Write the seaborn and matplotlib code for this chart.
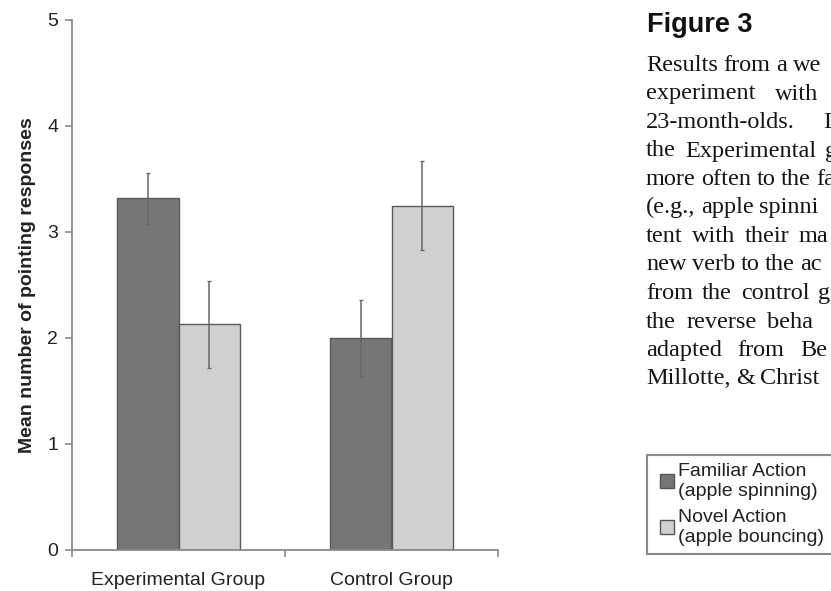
import matplotlib
matplotlib.use("Agg")
import matplotlib.pyplot as plt
import seaborn as sns
import pandas as pd
from matplotlib.lines import Line2D

# ---------------- data ----------------
groups = ["Experimental Group", "Control Group"]
actions = ["Familiar Action\n(apple spinning)", "Novel Action\n(apple bouncing)"]
familiar_mean = [3.32, 2.00]
familiar_err = [0.24, 0.355]
novel_mean = [2.13, 3.25]
novel_err = [0.41, 0.42]
y_ticks = [0, 1, 2, 3, 4, 5]
y_label = "Mean number of pointing responses"
heading = "Figure 3"
caption_lines = [
    "Results from a we",
    "experiment with",
    "23-month-olds. I",
    "the Experimental g",
    "more often to the fa",
    "(e.g., apple spinni",
    "tent with their ma",
    "new verb to the ac",
    "from the control g",
    "the reverse beha",
    "adapted from Be",
    "Millotte, & Christ",
]

# ---------------- layout (pixels) ----------------
W, H = 831, 591
caption_last_word_x = [793, 775, 823, 825, 815, 757, 799, 800, 818, 767, 800, 760]

df = pd.DataFrame({
    "group": groups * 2,
    "action": [actions[0]] * len(groups) + [actions[1]] * len(groups),
    "mean": familiar_mean + novel_mean,
})
errs = [familiar_err, novel_err]

sns.set_style("white")
plt.rcParams["font.family"] = ["Liberation Sans", "DejaVu Sans"]

fig = plt.figure(figsize=(W / 100, H / 100), dpi=100)
fig.patch.set_facecolor("white")
ax = fig.add_axes([72 / W, 1 - 550 / H, (498 - 72) / W, (550 - 20) / H])

palette = ["#767676", "#d0d0d0"]
sns.barplot(data=df, x="group", y="mean", hue="action", order=groups,
            hue_order=actions, palette=palette, width=0.578, saturation=1,
            edgecolor="#5a5a5a", linewidth=1.0, errorbar=None, ax=ax)

for cont, err in zip(ax.containers, errs):
    for bar, e in zip(cont, err):
        xc = bar.get_x() + bar.get_width() / 2
        ax.errorbar(xc, bar.get_height(), yerr=e, fmt="none", ecolor="#666666",
                    elinewidth=1.1, capsize=1.6, capthick=1.0, zorder=5)

ax.set_xlim(-0.5, 1.5)
ax.set_ylim(0, 5)
ax.set_yticks(y_ticks)
ax.set_xticks([-0.5, 0.5, 1.5], minor=True)
for s in ["top", "right"]:
    ax.spines[s].set_visible(False)
for s in ["left", "bottom"]:
    ax.spines[s].set_color("#8a8a8a")
    ax.spines[s].set_linewidth(1.3)

ax.tick_params(axis="y", left=True, length=5, width=1.2, color="#8a8a8a",
               pad=5, labelsize=14, labelcolor="#222222", direction="out")
ax.tick_params(axis="x", which="major", bottom=True, length=0, pad=16,
               labelsize=14, labelcolor="#222222")
ax.tick_params(axis="x", which="minor", bottom=True, length=5, width=1.2,
               color="#8a8a8a", direction="out")
ax.set_xlabel("")
ax.set_ylabel(y_label, fontsize=14, fontweight="bold", color="#222222", labelpad=8)

if ax.get_legend() is not None:
    ax.get_legend().remove()

handles = [Line2D([], [], marker="s", linestyle="none", markersize=9.4,
                  markerfacecolor=c, markeredgecolor="#555555", markeredgewidth=1.0)
           for c in palette]
leg = fig.legend(handles, actions, loc="upper left",
                 bbox_to_anchor=(647 / W, 1 - 455 / H), bbox_transform=fig.transFigure,
                 frameon=True, fancybox=False, edgecolor="#8a8a8a", framealpha=1,
                 borderpad=0.42, handlelength=1.2, handletextpad=0.0,
                 borderaxespad=0, labelspacing=0.5, prop={"size": 14},
                 labelcolor="#222222")
leg.get_frame().set_linewidth(1.5)

# heading and caption
fig.text(647 / W, 1 - 32 / H, heading, family=["Liberation Sans", "DejaVu Sans"],
         weight="bold", size=19.5, va="baseline", color="#111111")

renderer = fig.canvas.get_renderer()
cap_font = dict(family=["Liberation Serif", "DejaVu Serif"], size=17.5, color="#151515")
x0 = 646
for i, (line, last_x) in enumerate(zip(caption_lines, caption_last_word_x)):
    yb = 71 + 28.5 * i
    words = line.split(" ")
    widths = []
    for w in words[:-1]:
        t = fig.text(0, 0, w, **cap_font)
        widths.append(t.get_window_extent(renderer).width)
        t.remove()
    ngaps = len(words) - 1
    gap = (last_x - x0 - sum(widths)) / ngaps if ngaps else 0
    gap = max(gap, 5.5)
    x = x0
    for j, w in enumerate(words):
        fig.text(x / W, 1 - yb / H, w, va="baseline", ha="left", **cap_font)
        if j < len(widths):
            x += widths[j] + gap

fig.savefig("out.png", dpi=100)
